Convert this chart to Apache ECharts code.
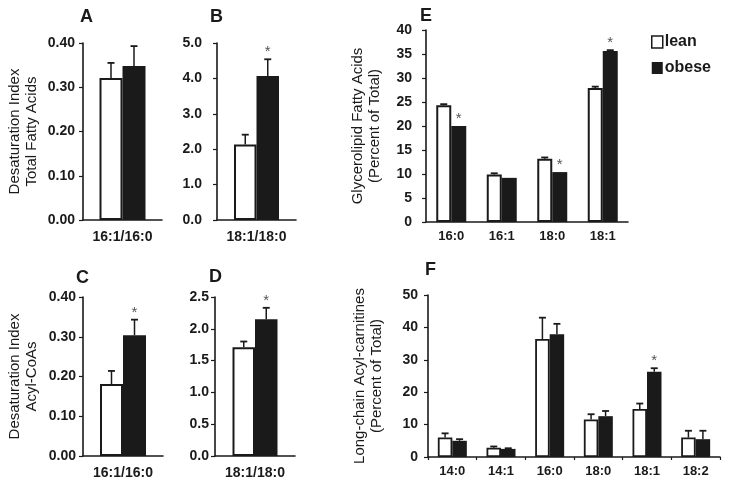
<!DOCTYPE html>
<html><head><meta charset="utf-8">
<script src="https://cdn.jsdelivr.net/npm/echarts@6/dist/echarts.min.js"></script>
<style>html,body{margin:0;padding:0;background:#fff}#c{width:729px;height:491px}</style>
</head><body><div id="c"></div>
<script>
// ---------- data ----------
const groupNames = ['lean', 'obese'];

const catA = ['16:1/16:0'];
const leanA = [0.321], leanAErr = [0.034];
const obeseA = [0.348], obeseAErr = [0.045];
const starA = [0];
const ticksA = [0, 0.4, 0.1];

const catB = ['18:1/18:0'];
const leanB = [2.13], leanBErr = [0.28];
const obeseB = [4.07], obeseBErr = [0.47];
const starB = [1];
const ticksB = [0, 5, 1];

const catC = ['16:1/16:0'];
const leanC = [0.181], leanCErr = [0.033];
const obeseC = [0.304], obeseCErr = [0.039];
const starC = [1];
const ticksC = [0, 0.4, 0.1];

const catD = ['18:1/18:0'];
const leanD = [1.71], leanDErr = [0.09];
const obeseD = [2.15], obeseDErr = [0.18];
const starD = [1];
const ticksD = [0, 2.5, 0.5];

const catE = ['16:0', '16:1', '18:0', '18:1'];
const leanE = [24.3, 9.9, 13.2, 27.9], leanEErr = [0.25, 0.25, 0.25, 0.3];
const obeseE = [20.0, 9.2, 10.4, 35.6], obeseEErr = [0, 0, 0, 0.2];
const starE = [1, 0, 1, 1];
const ticksE = [0, 40, 5];

const catF = ['14:0', '14:1', '16:0', '18:0', '18:1', '18:2'];
const leanF = [6.0, 2.85, 36.4, 11.6, 14.8, 6.0], leanFErr = [1.3, 0.4, 6.6, 1.6, 1.7, 2.1];
const obeseF = [5.0, 2.5, 37.9, 12.6, 26.3, 5.5], obeseFErr = [0.5, 0.2, 3.2, 1.6, 1.1, 2.6];
const starF = [0, 0, 0, 0, 1, 0];
const ticksF = [0, 50, 10];

const nameAB = 'Desaturation Index\nTotal Fatty Acids';
const nameCD = 'Desaturation Index\nAcyl-CoAs';
const nameE = 'Glycerolipid Fatty Acids\n(Percent of Total)';
const nameF = 'Long-chain Acyl-carnitines\n(Percent of Total)';
const panelLetters = ['A', 'B', 'C', 'D', 'E', 'F'];

// ---------- layout / style ----------
const FONT = 'Arial, "Liberation Sans", Helvetica, sans-serif';
const INK = '#1a1a1a';

const panels = [
  {cats: catA, lean: leanA, leanErr: leanAErr, obese: obeseA, obeseErr: obeseAErr, star: starA, ticks: ticksA, dec: 2, name: nameAB,
   grid: {left: 83, top: 43, width: 79, height: 177}, bw: 23, lm: 8, cf: 14, cm: 10, xTick: false, bord: 2, letter: [80, 18]},
  {cats: catB, lean: leanB, leanErr: leanBErr, obese: obeseB, obeseErr: obeseBErr, star: starB, ticks: ticksB, dec: 1, name: '',
   grid: {left: 217, top: 43, width: 79, height: 177}, bw: 22.5, lm: 15, cf: 14, cm: 10, xTick: false, bord: 2, letter: [210, 18]},
  {cats: catC, lean: leanC, leanErr: leanCErr, obese: obeseC, obeseErr: obeseCErr, star: starC, ticks: ticksC, dec: 2, name: nameCD,
   grid: {left: 83, top: 297, width: 80, height: 159}, bw: 23, lm: 7, cf: 14, cm: 10, xTick: false, bord: 2, letter: [76, 279]},
  {cats: catD, lean: leanD, leanErr: leanDErr, obese: obeseD, obeseErr: obeseDErr, star: starD, ticks: ticksD, dec: 1, name: '',
   grid: {left: 215, top: 297, width: 80, height: 159}, bw: 22.5, lm: 6, cf: 14, cm: 10, xTick: false, bord: 2, letter: [209, 278]},
  {cats: catE, lean: leanE, leanErr: leanEErr, obese: obeseE, obeseErr: obeseEErr, star: starE, ticks: ticksE, dec: 0, name: nameE,
   grid: {left: 426, top: 30, width: 202, height: 192}, bw: 15, lm: 14, cf: 13, cm: 8, xTick: false, bord: 2, letter: [420, 17.5]},
  {cats: catF, lean: leanF, leanErr: leanFErr, obese: obeseF, obeseErr: obeseFErr, star: starF, ticks: ticksF, dec: 0, name: nameF,
   grid: {left: 428, top: 295, width: 292, height: 162}, bw: 14.5, lm: 10, cf: 13, cm: 8, xTick: true, bord: 1.8, letter: [425, 271.5]}
];

const grids = [], xAxes = [], yAxes = [], series = [], graphics = [];

panels.forEach(function (p, i) {
  grids.push(Object.assign({containLabel: false}, p.grid));
  xAxes.push({
    type: 'category', gridIndex: i, data: p.cats,
    axisLine: {show: true, lineStyle: {color: INK, width: 1.6}},
    axisTick: {show: p.xTick, length: 3, inside: false, lineStyle: {color: INK, width: 1.2}},
    axisLabel: {color: INK, fontFamily: FONT, fontWeight: 'bold', fontSize: p.cf, margin: p.cm, interval: 0},
    splitLine: {show: false}
  });
  yAxes.push({
    type: 'value', gridIndex: i, min: p.ticks[0], max: p.ticks[1], interval: p.ticks[2],
    axisLine: {show: true, lineStyle: {color: INK, width: 1.6}},
    axisTick: {show: true, length: 4, inside: false, lineStyle: {color: INK, width: 1.2}},
    axisLabel: {color: INK, fontFamily: FONT, fontWeight: 'bold', fontSize: 14, margin: p.lm,
      formatter: function (v) { return v.toFixed(p.dec); }},
    splitLine: {show: false},
    name: p.name, nameLocation: 'middle', nameRotate: 90, nameGap: 42,
    nameTextStyle: {color: INK, fontFamily: FONT, fontSize: 15, lineHeight: 17.5, fontWeight: 'normal'}
  });
  series.push({
    type: 'bar', name: groupNames[0], xAxisIndex: i, yAxisIndex: i, data: p.lean,
    barWidth: p.bw, barGap: '0%', silent: true,
    itemStyle: {color: '#ffffff', borderColor: INK, borderWidth: p.bord}
  });
  series.push({
    type: 'bar', name: groupNames[1], xAxisIndex: i, yAxisIndex: i, data: p.obese,
    barWidth: p.bw, barGap: '0%', silent: true,
    itemStyle: {color: INK, borderColor: INK, borderWidth: 0}
  });
  const errData = [];
  p.cats.forEach(function (c, k) {
    errData.push([k, p.lean[k], p.leanErr[k], -1, 0]);
    errData.push([k, p.obese[k], p.obeseErr[k], 1, p.star[k]]);
  });
  const bw = p.bw;
  series.push({
    type: 'custom', xAxisIndex: i, yAxisIndex: i, data: errData, z: 10, silent: true,
    encode: {x: 0, y: 1},
    renderItem: function (params, api) {
      const cat = api.value(0), v = api.value(1), e = api.value(2), side = api.value(3), st = api.value(4);
      const base = api.coord([cat, v]);
      const top = api.coord([cat, v + e]);
      const x = base[0] + side * bw / 2;
      const children = [];
      if (e > 0) {
        children.push({type: 'line', shape: {x1: x, y1: base[1], x2: x, y2: top[1]},
          style: {stroke: INK, lineWidth: 1.5}});
        children.push({type: 'line', shape: {x1: x - 3.5, y1: top[1], x2: x + 3.5, y2: top[1]},
          style: {stroke: INK, lineWidth: 1.8}});
      }
      if (st) {
        children.push({type: 'text', style: {x: x, y: top[1] - 7, text: '*', fill: '#555',
          font: '15px ' + FONT, align: 'center', verticalAlign: 'middle'}});
      }
      return {type: 'group', children: children};
    }
  });
  graphics.push({type: 'text', left: p.letter[0], top: p.letter[1] - 10,
    style: {text: panelLetters[i], fill: INK, font: 'bold 18px ' + FONT}});
});

const chart = echarts.init(document.getElementById('c'), null, {renderer: 'canvas'});
chart.setOption({
  animation: false,
  backgroundColor: '#ffffff',
  grid: grids, xAxis: xAxes, yAxis: yAxes, series: series,
  graphic: graphics,
  legend: {
    orient: 'vertical', left: 646, top: 29, itemWidth: 11, itemHeight: 12, itemGap: 10,
    selectedMode: false, icon: 'rect',
    data: [
      {name: groupNames[0], itemStyle: {color: '#ffffff', borderColor: INK, borderWidth: 1.5}},
      {name: groupNames[1], itemStyle: {color: INK, borderWidth: 0}}
    ],
    textStyle: {color: INK, fontFamily: FONT, fontWeight: 'bold', fontSize: 16, padding: [0, 0, 0, -3]}
  }
});
</script>
</body></html>
